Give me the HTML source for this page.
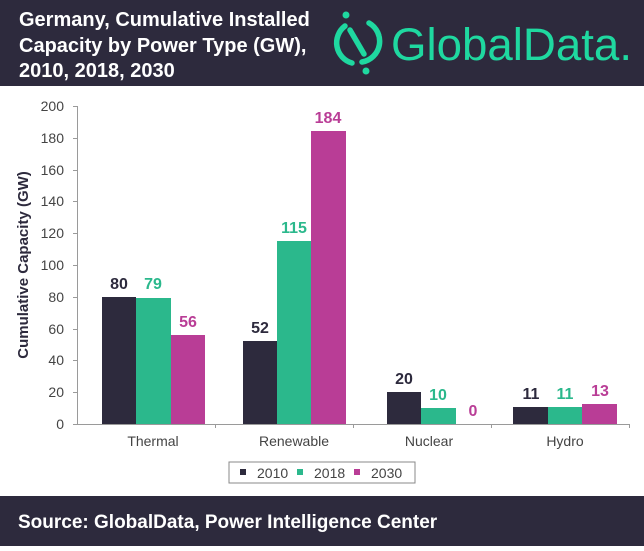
<!DOCTYPE html>
<html><head><meta charset="utf-8"><style>
body{margin:0;width:644px;height:546px;overflow:hidden;background:#fff;font-family:"Liberation Sans",sans-serif}
</style></head><body>
<svg width="644" height="546" xmlns="http://www.w3.org/2000/svg" font-family="Liberation Sans, sans-serif">
<rect x="0" y="0" width="644" height="86" fill="#2d2a3d"/>
<g fill="#fff" font-weight="bold" font-size="20">
<text x="19" y="26">Germany, Cumulative Installed</text>
<text x="19" y="52">Capacity by Power Type (GW),</text>
<text x="19" y="77">2010, 2018, 2030</text>
</g>
<g fill="none" stroke="#1fd8a0" stroke-width="5.5" stroke-linecap="round">
<path d="M345 26 A21 21 0 0 0 352 63"/>
<path d="M369 23 A21 21 0 0 1 362 62"/>
<line x1="350" y1="30" x2="364" y2="54"/>
</g>
<circle cx="346" cy="15" r="3.5" fill="#1fd8a0"/>
<circle cx="366" cy="71" r="3.5" fill="#1fd8a0"/>
<text x="391" y="60" fill="#1fd8a0" font-size="45" textLength="241" lengthAdjust="spacingAndGlyphs">GlobalData.</text>

<g stroke="#9a9a9a" stroke-width="1">
<line x1="77.5" y1="106" x2="77.5" y2="424"/>
<line x1="77" y1="424.5" x2="629" y2="424.5"/>
<line x1="73" y1="106.5" x2="77" y2="106.5"/><line x1="73" y1="138.5" x2="77" y2="138.5"/>
<line x1="73" y1="170.5" x2="77" y2="170.5"/><line x1="73" y1="201.5" x2="77" y2="201.5"/>
<line x1="73" y1="233.5" x2="77" y2="233.5"/><line x1="73" y1="265.5" x2="77" y2="265.5"/>
<line x1="73" y1="297.5" x2="77" y2="297.5"/><line x1="73" y1="329.5" x2="77" y2="329.5"/>
<line x1="73" y1="360.5" x2="77" y2="360.5"/><line x1="73" y1="392.5" x2="77" y2="392.5"/>
<line x1="73" y1="424.5" x2="77" y2="424.5"/>
<line x1="215.5" y1="424" x2="215.5" y2="428"/><line x1="353.5" y1="424" x2="353.5" y2="428"/>
<line x1="491.5" y1="424" x2="491.5" y2="428"/><line x1="629.5" y1="424" x2="629.5" y2="428"/>
</g>
<g fill="#444" font-size="14" text-anchor="end">
<text x="64" y="111">200</text><text x="64" y="143">180</text><text x="64" y="175">160</text>
<text x="64" y="206">140</text><text x="64" y="238">120</text><text x="64" y="270">100</text>
<text x="64" y="302">80</text><text x="64" y="334">60</text><text x="64" y="365">40</text>
<text x="64" y="397">20</text><text x="64" y="429">0</text>
</g>
<text transform="translate(28,265) rotate(-90)" text-anchor="middle" font-size="15" font-weight="bold" fill="#2d2a3d">Cumulative Capacity (GW)</text>

<g>
<rect x="102" y="297" width="34" height="127" fill="#2d2a3d"/>
<rect x="136" y="298" width="35" height="126" fill="#2bb88c"/>
<rect x="171" y="335" width="34" height="89" fill="#b93d96"/>
<rect x="243" y="341" width="34" height="83" fill="#2d2a3d"/>
<rect x="277" y="241" width="34" height="183" fill="#2bb88c"/>
<rect x="311" y="131" width="35" height="293" fill="#b93d96"/>
<rect x="387" y="392" width="34" height="32" fill="#2d2a3d"/>
<rect x="421" y="408" width="35" height="16" fill="#2bb88c"/>
<rect x="513" y="407" width="35" height="17" fill="#2d2a3d"/>
<rect x="548" y="407" width="34" height="17" fill="#2bb88c"/>
<rect x="582" y="404" width="35" height="20" fill="#b93d96"/>
</g>
<g font-size="16" font-weight="bold" text-anchor="middle">
<text x="119" y="289" fill="#2d2a3d">80</text>
<text x="153" y="289" fill="#2bb88c">79</text>
<text x="188" y="327" fill="#b93d96">56</text>
<text x="260" y="333" fill="#2d2a3d">52</text>
<text x="294" y="233" fill="#2bb88c">115</text>
<text x="328" y="123" fill="#b93d96">184</text>
<text x="404" y="384" fill="#2d2a3d">20</text>
<text x="438" y="400" fill="#2bb88c">10</text>
<text x="473" y="416" fill="#b93d96">0</text>
<text x="531" y="399" fill="#2d2a3d">11</text>
<text x="565" y="399" fill="#2bb88c">11</text>
<text x="600" y="396" fill="#b93d96">13</text>
</g>
<g font-size="14" fill="#444" text-anchor="middle">
<text x="153" y="446">Thermal</text>
<text x="294" y="446">Renewable</text>
<text x="429" y="446">Nuclear</text>
<text x="565" y="446">Hydro</text>
</g>
<rect x="229" y="462" width="186" height="21" fill="#fff" stroke="#888" stroke-width="1"/>
<rect x="240" y="469" width="6" height="6" fill="#2d2a3d"/>
<text x="257" y="478" font-size="14" fill="#444">2010</text>
<rect x="297" y="469" width="6" height="6" fill="#2bb88c"/>
<text x="314" y="478" font-size="14" fill="#444">2018</text>
<rect x="354" y="469" width="6" height="6" fill="#b93d96"/>
<text x="371" y="478" font-size="14" fill="#444">2030</text>

<rect x="0" y="496" width="644" height="50" fill="#2d2a3d"/>
<text x="18" y="528" fill="#fff" font-size="19" font-weight="bold">Source: GlobalData, Power Intelligence Center</text>
</svg>
</body></html>
